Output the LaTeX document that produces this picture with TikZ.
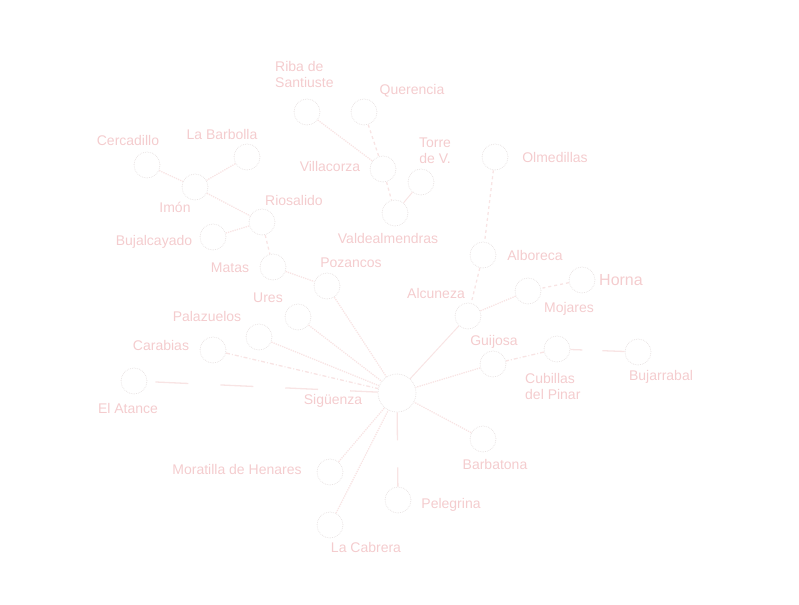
\documentclass[tikz,border=0pt]{standalone}
\usepackage{fontspec}
\setsansfont{Liberation Sans}
\definecolor{txtrosa}{RGB}{244,204,206}
\definecolor{linrosa}{RGB}{248,228,228}
\definecolor{circgris}{RGB}{234,228,228}
\begin{document}
\begin{tikzpicture}[x=1pt,y=-1pt,every node/.style={font=\fontsize{14}{16}\selectfont\sffamily,text=txtrosa},
  pueblo/.style={circle,draw=circgris,densely dotted,line width=0.8pt,minimum size=26pt,inner sep=0pt},
  etiq/.style={inner sep=1pt},
  punteado/.style={draw=linrosa,line width=1.3pt,densely dotted},
  rayado/.style={draw=linrosa,line width=1.3pt,dashed},
  largo/.style={draw=linrosa,line width=1.3pt,dash pattern=on 33pt off 32pt},
  guionpunto/.style={draw=linrosa,line width=1.3pt,dash pattern=on 4pt off 2pt on 1pt off 2pt},
  fino/.style={draw=linrosa,line width=1pt}]
\useasboundingbox (0,0) rectangle (799,604);
% pueblos
\node[pueblo,minimum size=38pt] (sig) at (397,393) {};
\node[pueblo] (cer) at (147,165) {};
\node[pueblo] (bar) at (247,157) {};
\node[pueblo] (imo) at (195,187) {};
\node[pueblo] (rib) at (307,112) {};
\node[pueblo] (que) at (364,112) {};
\node[pueblo] (vil) at (383,169) {};
\node[pueblo] (tor) at (421,182) {};
\node[pueblo] (val) at (395,213) {};
\node[pueblo] (olm) at (495,157) {};
\node[pueblo] (alb) at (483,255) {};
\node[pueblo] (hor) at (582,280) {};
\node[pueblo] (moj) at (528,291) {};
\node[pueblo] (alc) at (468,316) {};
\node[pueblo] (gui) at (493,364) {};
\node[pueblo] (cub) at (557,349) {};
\node[pueblo] (buj) at (638,352) {};
\node[pueblo] (rio) at (262,222) {};
\node[pueblo] (bca) at (213,237) {};
\node[pueblo] (mat) at (273,267) {};
\node[pueblo] (poz) at (327,286) {};
\node[pueblo] (ure) at (298,317) {};
\node[pueblo] (pal) at (259,337) {};
\node[pueblo] (car) at (213,350) {};
\node[pueblo] (ata) at (134,381) {};
\node[pueblo] (mor) at (330,472) {};
\node[pueblo] (bat) at (483,439) {};
\node[pueblo] (pel) at (398,500) {};
\node[pueblo] (cab) at (330,525) {};
% nombres
\node[etiq] (tsig) at (333,401) {Sigüenza};
\node[etiq] (tcer) at (128,140) {Cercadillo};
\node[etiq] (tbar) at (222,134) {La Barbolla};
\node[etiq] (timo) at (175,207) {Imón};
\node[etiq,align=left,anchor=west] (trib) at (274,74) {Riba de\\Santiuste};
\node[etiq] (tque) at (412,91) {Querencia};
\node[etiq] (tvil) at (330,166) {Villacorza};
\node[etiq,align=center] (ttor) at (435,151) {Torre\\de V.};
\node[etiq] (tolm) at (555,157) {Olmedillas};
\node[etiq] (tval) at (388,238) {Valdealmendras};
\node[etiq] (trio) at (294,200) {Riosalido};
\node[etiq] (tbca) at (154,242) {Bujalcayado};
\node[etiq] (tmat) at (230,268) {Matas};
\node[etiq] (tpoz) at (351,263) {Pozancos};
\node[etiq] (talb) at (535,255) {Alboreca};
\node[etiq,font=\fontsize{16}{18}\selectfont\sffamily] (thor) at (621,280) {Horna};
\node[etiq] (talc) at (436,293) {Alcuneza};
\node[etiq] (tmoj) at (569,309) {Mojares};
\node[etiq] (tgui) at (494,342) {Guijosa};
\node[etiq,align=left,anchor=west] (tcub) at (524,386) {Cubillas\\del Pinar};
\node[etiq] (tbuj) at (661,377) {Bujarrabal};
\node[etiq] (ture) at (268,298) {Ures};
\node[etiq] (tpal) at (207,316) {Palazuelos};
\node[etiq] (tcar) at (161,345) {Carabias};
\node[etiq] (tata) at (128,408) {El Atance};
\node[etiq] (tmor) at (237,469) {Moratilla de Henares};
\node[etiq] (tbat) at (495,464) {Barbatona};
\node[etiq] (tpel) at (451,505) {Pelegrina};
\node[etiq] (tcab) at (366,547) {La Cabrera};
% caminos
\draw[punteado] (cer) -- (imo);
\draw[punteado] (bar) -- (imo);
\draw[punteado] (imo) -- (rio);
\draw[punteado] (bca) -- (rio);
\draw[rayado] (rio) -- (mat);
\draw[punteado] (mat) -- (poz);
\draw[punteado] (poz) -- (sig);
\draw[punteado] (ure) -- (sig);
\draw[punteado] (pal) -- (sig);
\draw[guionpunto] (car) -- (sig);
\draw[largo,dash phase=57pt] (ata) -- (sig);
\draw[punteado] (rib) -- (vil);
\draw[rayado] (que) -- (vil);
\draw[rayado] (vil) -- (val);
\draw[fino] (tor) -- (val);
\draw[rayado] (olm) -- (alb);
\draw[rayado] (alb) -- (alc);
\draw[punteado] (moj) -- (alc);
\draw[rayado] (hor) -- (moj);
\draw[fino] (alc) -- (sig);
\draw[punteado] (gui) -- (sig);
\draw[guionpunto] (cub) -- (gui);
\draw[largo,dash pattern=on 12pt off 20pt on 30pt off 20pt] (cub) -- (buj);
\draw[punteado] (bat) -- (sig);
\draw[largo,dash pattern=on 28pt off 27pt] (sig) -- (pel);
\draw[punteado] (mor) -- (sig);
\draw[punteado] (cab) -- (sig);
\end{tikzpicture}
\end{document}
